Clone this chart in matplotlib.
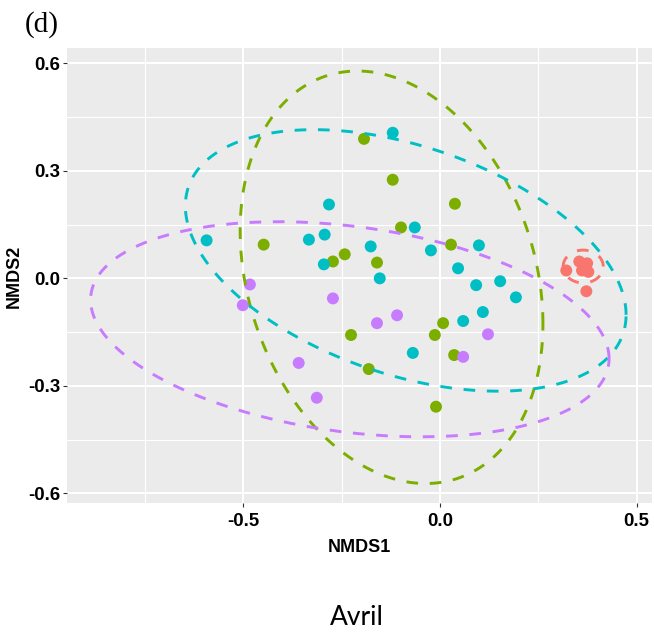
import numpy as np
import matplotlib
matplotlib.use("Agg")
import matplotlib.pyplot as plt

# NMDS scores per group
red_x = [0.321, 0.354, 0.374, 0.361, 0.377, 0.372]
red_y = [0.022, 0.047, 0.042, 0.022, 0.018, -0.036]

green_x = [-0.193, -0.120, 0.038, -0.448, -0.099, 0.028, -0.272, -0.242, -0.160,
           -0.226, 0.008, -0.013, 0.036, -0.181, -0.010]
green_y = [0.389, 0.275, 0.208, 0.094, 0.142, 0.094, 0.047, 0.067, 0.044,
           -0.158, -0.125, -0.158, -0.214, -0.253, -0.358]

cyan_x = [-0.593, -0.120, -0.282, -0.333, -0.293, -0.295, -0.176, -0.153, -0.064,
          -0.023, 0.099, 0.046, 0.092, 0.153, 0.193, 0.109, 0.059, -0.069]
cyan_y = [0.106, 0.406, 0.206, 0.108, 0.122, 0.039, 0.089, 0.000, 0.142,
          0.078, 0.092, 0.028, -0.019, -0.008, -0.053, -0.094, -0.119, -0.208]

purple_x = [-0.483, -0.501, -0.272, -0.160, -0.109, 0.122, 0.059, -0.359, -0.313]
purple_y = [-0.017, -0.075, -0.056, -0.125, -0.103, -0.156, -0.219, -0.236, -0.333]

# 95% ellipses: centre and shape matrix (sxx, syy, sxy)
ell_cx = [0.364, -0.123, -0.087, -0.229]
ell_cy = [0.033, 0.003, 0.050, -0.142]
ell_sxx = [0.0026, 0.148, 0.3136, 0.434]
ell_syy = [0.0021, 0.331, 0.133, 0.090]
ell_sxy = [0.0, -0.050, -0.085, -0.054]

colors = ['#F8766D', '#7CAE00', '#00BFC4', '#C77CFF']
groups = [(red_x, red_y), (green_x, green_y), (cyan_x, cyan_y), (purple_x, purple_y)]

fig = plt.figure(figsize=(6.54, 6.35), dpi=100)
ax = fig.add_axes([0.1029, 0.2071, 0.8933, 0.7168])
ax.set_facecolor('#EBEBEB')
for s in ax.spines.values():
    s.set_visible(False)

ax.set_xlim(-0.947, 0.5376)
ax.set_ylim(-0.628, 0.6416)
ax.set_xticks([-0.5, 0.0, 0.5])
ax.set_xticklabels(['-0.5', '0.0', '0.5'])
ax.set_yticks([-0.6, -0.3, 0.0, 0.3, 0.6])
ax.set_yticklabels(['-0.6', '-0.3', '0.0', '0.3', '0.6'])
ax.set_xticks([-0.75, -0.25, 0.25], minor=True)
ax.set_yticks([-0.45, -0.15, 0.15, 0.45], minor=True)
ax.grid(which='major', color='white', linewidth=1.5)
ax.grid(which='minor', color='white', linewidth=0.8)
ax.set_axisbelow(True)
ax.tick_params(which='major', length=3, width=0.8, color='#333333',
               labelsize=13.4, pad=2)
ax.tick_params(axis='x', pad=4)
ax.tick_params(which='minor', length=0)
for lab in ax.get_xticklabels() + ax.get_yticklabels():
    lab.set_fontfamily('Liberation Sans')
    lab.set_fontweight('bold')

for (gx, gy), c in zip(groups, colors):
    ax.scatter(gx, gy, s=74, color=c, edgecolors='none', zorder=3)

t = np.linspace(0, 2 * np.pi, 200)
for i in range(4):
    cov = np.array([[ell_sxx[i], ell_sxy[i]], [ell_sxy[i], ell_syy[i]]])
    L = np.linalg.cholesky(cov)
    pts = L @ np.vstack([np.cos(t), np.sin(t)])
    ax.plot(ell_cx[i] + pts[0], ell_cy[i] + pts[1], color=colors[i],
            linewidth=2.1, linestyle=(0, (4, 4)), zorder=4)

ax.set_xlabel('NMDS1', fontsize=13, fontweight='bold', family='Liberation Sans', labelpad=6)
ax.set_ylabel('NMDS2', fontsize=13, fontweight='bold', family='Liberation Sans', labelpad=4)

fig.text(0.038, 0.961, '(d)', fontsize=21, family='Liberation Serif', va='center', ha='left')
fig.text(0.546, 0.027, 'Avril', fontsize=19, family='Lato', va='center', ha='center')

plt.savefig('out.png', dpi=100)
